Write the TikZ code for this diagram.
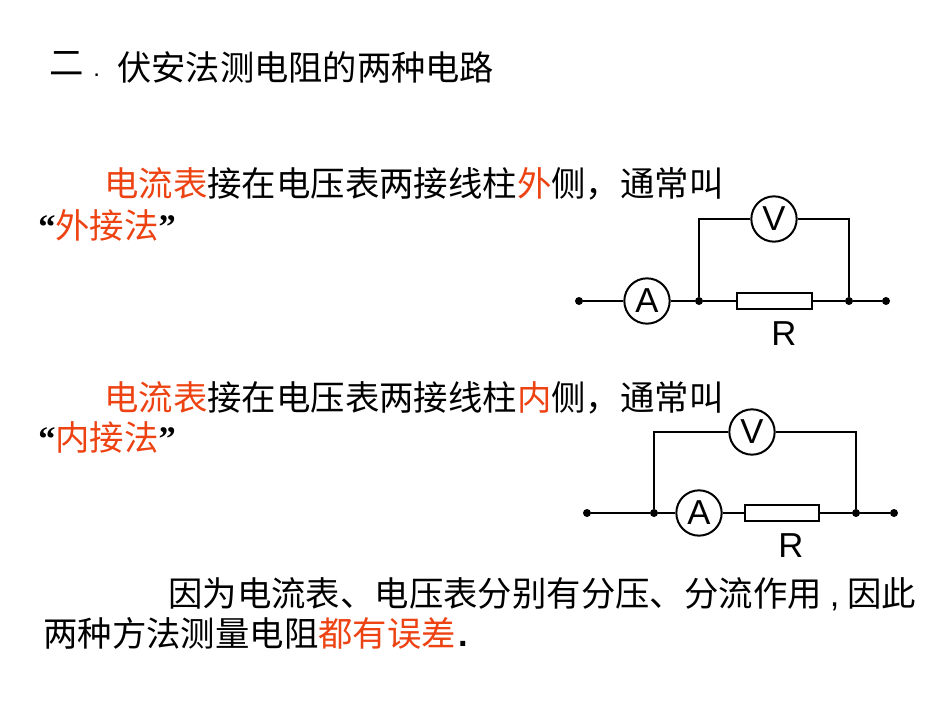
\documentclass[tikz,border=0pt]{standalone}
\usepackage{fontspec}
\usepackage{color}
\setmainfont{Liberation Sans}
\newfontfamily\cjk{Noto Sans CJK SC}
\newfontfamily\qfont{Liberation Serif}
\definecolor{hilite}{rgb}{0.93,0.26,0.07}
\newcommand{\red}[1]{\textcolor{hilite}{#1}}
\tikzset{
  txt/.style={anchor=north west,inner sep=0.75pt,font=\fontsize{25.8pt}{30pt}\selectfont\cjk},
  wire/.style={line width=1.7pt},
  meter/.style={draw,circle,line width=1.5pt,fill=white,minimum size=34pt,inner sep=0pt,font=\fontsize{26pt}{30pt}\selectfont},
  res/.style={draw,rectangle,line width=1.7pt,minimum width=56pt,minimum height=12pt,inner sep=0pt},
  dot/.style={fill,circle,minimum size=6pt,inner sep=0pt},
  lbl/.style={inner sep=0.75pt,font=\fontsize{26pt}{30pt}\selectfont}
}
\begin{document}
\begin{tikzpicture}[x=0.75pt,y=0.75pt,yscale=-1,xscale=1]
\useasboundingbox (0,0) rectangle (950,713);

% Text Node
\draw (48,50) node (title) [txt] {二};
% Text Node
\draw (92,73) node (titledot) [txt,font=\fontsize{18pt}{20pt}\selectfont] {.};
% Text Node
\draw (116,50) node (titletext) [txt,font=\fontsize{25.7pt}{30pt}\selectfont\cjk] {伏安法测电阻的两种电路};
% Text Node
\draw (103,166) node (outerone) [txt] {\red{电流表}接在电压表两接线柱\red{外}侧，通常叫};
% Text Node
\draw (37,208) node (outertwo) [txt] {{\qfont\bfseries“}\red{外接法}{\qfont\bfseries”}};
% Text Node
\draw (103,380) node (innerone) [txt] {\red{电流表}接在电压表两接线柱\red{内}侧，通常叫};
% Text Node
\draw (37,420) node (innertwo) [txt] {{\qfont\bfseries“}\red{内接法}{\qfont\bfseries”}};
% Text Node
\draw (167,576) node (endone) [txt] {因为电流表、电压表分别有分压、分流作用\hspace{6pt}{\rmfamily,}\hspace{6pt}因此};
% Text Node
\draw (42,616) node (endtwo) [txt] {两种方法测量电阻\red{都有误差}\hspace{1.5pt}{\rmfamily\bfseries .}};

%Outer circuit
\node (aout) [meter] at (647,301) {A};
\node (vout) [meter] at (774,219) {V};
\node (rout) [res] at (774.5,301) {};
\node (tout1) [dot] at (579,301) {};
\node (jout1) [dot] at (699,301) {};
\node (jout2) [dot] at (849,301) {};
\node (tout2) [dot] at (886,301) {};
\node (routlbl) [lbl] at (784,334) {R};
\draw [wire] (tout1) -- (aout) -- (jout1) -- (rout) -- (jout2) -- (tout2);
\draw [wire] (jout1) |- (vout);
\draw [wire] (jout2) |- (vout);

%Inner circuit
\node (ain) [meter] at (699,513) {A};
\node (vin) [meter] at (752,432) {V};
\node (rin) [res] at (782,513) {};
\node (tin1) [dot] at (587,513) {};
\node (jin1) [dot] at (654,513) {};
\node (jin2) [dot] at (856,513) {};
\node (tin2) [dot] at (894,513) {};
\node (rinlbl) [lbl] at (791,546) {R};
\draw [wire] (tin1) -- (jin1) -- (ain) -- (rin) -- (jin2) -- (tin2);
\draw [wire] (jin1) |- (vin);
\draw [wire] (jin2) |- (vin);

\end{tikzpicture}
\end{document}
